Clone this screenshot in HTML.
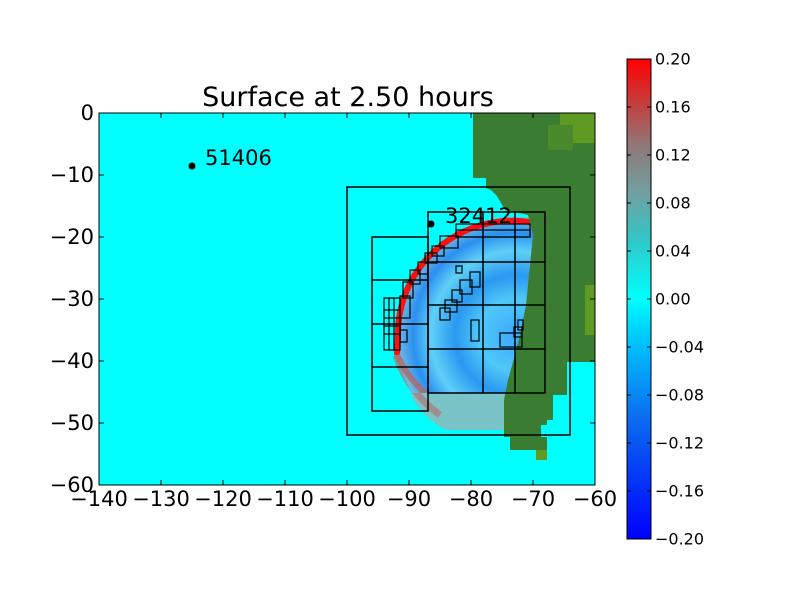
<!DOCTYPE html>
<html><head><meta charset="utf-8"><style>body{margin:0;background:#fff}svg{display:block}</style></head><body>
<svg width="800" height="600" viewBox="0 0 800 600" xmlns="http://www.w3.org/2000/svg" font-family="DejaVu Sans, Liberation Sans, sans-serif">
<defs>
<linearGradient id="cb" x1="0" y1="1" x2="0" y2="0">
<stop offset="0" stop-color="#0000ff"/><stop offset="0.25" stop-color="#0a6cf0"/><stop offset="0.42" stop-color="#00c8ff"/><stop offset="0.5" stop-color="#00ffff"/><stop offset="0.62" stop-color="#30c8c8"/><stop offset="0.72" stop-color="#70a0a0"/><stop offset="0.82" stop-color="#907878"/><stop offset="1" stop-color="#ff0000"/>
</linearGradient>
<radialGradient id="wv" cx="515" cy="335" r="120" gradientUnits="userSpaceOnUse">
<stop offset="0" stop-color="#3aa8ff"/><stop offset="0.3" stop-color="#50c8f8"/><stop offset="0.5" stop-color="#2a98f0"/><stop offset="0.7" stop-color="#60d0f8"/><stop offset="0.85" stop-color="#2a90f0"/><stop offset="1" stop-color="#80c0e0"/>
</radialGradient>
<clipPath id="pa"><rect x="99" y="113" width="496" height="372"/></clipPath>
<clipPath id="wc"><rect x="380" y="200" width="155" height="193"/></clipPath>
</defs>
<g clip-path="url(#pa)">
<rect x="99" y="113" width="496" height="372" fill="#00ffff"/>
<path d="M410 393 L505 393 L505 430 L445 430 Q420 415 410 393 Z" fill="#8fb8bc" opacity="0.85"/>
<path d="M396 355 A118 118 0 0 0 440 415" fill="none" stroke="#b07878" stroke-width="7" opacity="0.7"/>
<g clip-path="url(#wc)">
<circle cx="515" cy="335" r="118" fill="url(#wv)"/>
<path d="M530 222 A115 113 0 0 0 398 335 L397 355" fill="none" stroke="#ff1010" stroke-width="6"/>
<path d="M397 355 A118 118 0 0 0 425 393" fill="none" stroke="#b06868" stroke-width="6" opacity="0.8"/>
</g>
<polygon points="473,113 595,113 595,362 567,362 567,395 553,395 553,420 547,420 547,425 541,425 541,437 547,437 547,460 536,460 536,450 510,450 510,437 504,437 504,400 508,380 515,355 520,335 526,305 530,265 533,235 528,215 505,210 497,196 491,190 486,188 486,178 473,178" fill="#3a7d32"/>
<rect x="560" y="113" width="35" height="30" fill="#5f9a22"/>
<rect x="548" y="125" width="25" height="25" fill="#4a8a2a"/>
<rect x="585" y="285" width="10" height="50" fill="#5f9a22"/>
<rect x="536" y="450" width="11" height="10" fill="#5f9a22"/>
<g fill="none" stroke="#000" stroke-width="1.5">
<rect x="347" y="187" width="223" height="248"/>
<rect x="428" y="212" width="117" height="181"/>
<line x1="483" y1="212" x2="483" y2="393"/><line x1="515" y1="212" x2="515" y2="393"/>
<line x1="428" y1="262" x2="545" y2="262"/><line x1="428" y1="305" x2="545" y2="305"/><line x1="428" y1="349" x2="545" y2="349"/>
<rect x="372" y="237" width="56" height="174"/>
<line x1="372" y1="280" x2="428" y2="280"/><line x1="372" y1="324" x2="428" y2="324"/><line x1="372" y1="367" x2="428" y2="367"/>
<g stroke-width="1.2">
<rect x="456" y="224" width="74" height="13"/><rect x="456" y="230" width="74" height="7"/>
<rect x="440" y="236" width="18" height="12"/><rect x="432" y="246" width="12" height="10"/>
<rect x="425" y="253" width="12" height="10"/><rect x="418" y="262" width="10" height="12"/>
<rect x="410" y="270" width="10" height="14"/><rect x="403" y="282" width="10" height="16"/>
<rect x="400" y="296" width="10" height="22"/><rect x="384" y="298" width="16" height="52"/>
<rect x="389" y="298" width="5" height="52"/><rect x="384" y="310" width="16" height="8"/>
<rect x="384" y="326" width="16" height="8"/><rect x="400" y="330" width="7" height="12"/>
<rect x="456" y="266" width="6" height="7"/><rect x="470" y="272" width="10" height="15"/>
<rect x="460" y="280" width="12" height="14"/><rect x="452" y="290" width="10" height="12"/>
<rect x="445" y="300" width="12" height="12"/><rect x="440" y="308" width="10" height="12"/>
<rect x="471" y="320" width="8" height="21"/><rect x="500" y="333" width="22" height="14"/>
<rect x="514" y="327" width="8" height="10"/><rect x="518" y="320" width="5" height="10"/>
</g>
</g>
</g>
<rect x="99" y="113" width="496" height="372" fill="none" stroke="#000" stroke-width="1"/>
<g stroke="#000" stroke-width="1">
<path d="M161 113v5M223 113v5M285 113v5M347 113v5M409 113v5M471 113v5M533 113v5M161 485v-5M223 485v-5M285 485v-5M347 485v-5M409 485v-5M471 485v-5M533 485v-5"/>
<path d="M99 175h5M99 237h5M99 299h5M99 361h5M99 423h5M595 175h-5M595 237h-5M595 299h-5M595 361h-5M595 423h-5"/>
</g>
<circle cx="192" cy="166" r="3.5" fill="#000"/>
<circle cx="431" cy="224" r="3.5" fill="#000"/>
<text x="205" y="159" font-size="21" dominant-baseline="middle">51406</text>
<text x="445" y="217" font-size="21" dominant-baseline="middle">32412</text>
<text x="348" y="106" font-size="27" text-anchor="middle">Surface at 2.50 hours</text>
<g font-size="21" text-anchor="middle">
<text x="99" y="506">−140</text><text x="161" y="506">−130</text><text x="223" y="506">−120</text><text x="285" y="506">−110</text><text x="347" y="506">−100</text><text x="409" y="506">−90</text><text x="471" y="506">−80</text><text x="533" y="506">−70</text><text x="595" y="506">−60</text>
</g>
<g font-size="21" text-anchor="end" dominant-baseline="middle">
<text x="94" y="114">0</text><text x="94" y="176">−10</text><text x="94" y="238">−20</text><text x="94" y="300">−30</text><text x="94" y="362">−40</text><text x="94" y="424">−50</text><text x="94" y="486">−60</text>
</g>
<rect x="627" y="59" width="24" height="480" fill="url(#cb)" stroke="#000" stroke-width="1"/>
<g font-size="16" dominant-baseline="middle">
<text x="655" y="60">0.20</text><text x="655" y="108">0.16</text><text x="655" y="156">0.12</text><text x="655" y="204">0.08</text><text x="655" y="252">0.04</text><text x="655" y="300">0.00</text><text x="655" y="348">−0.04</text><text x="655" y="396">−0.08</text><text x="655" y="444">−0.12</text><text x="655" y="492">−0.16</text><text x="655" y="540">−0.20</text>
</g>
<g stroke="#000"><path d="M627 107h4M627 155h4M627 203h4M627 251h4M627 299h4M627 347h4M627 395h4M627 443h4M627 491h4M651 107h-4M651 155h-4M651 203h-4M651 251h-4M651 299h-4M651 347h-4M651 395h-4M651 443h-4M651 491h-4"/></g>
</svg>
</body></html>
